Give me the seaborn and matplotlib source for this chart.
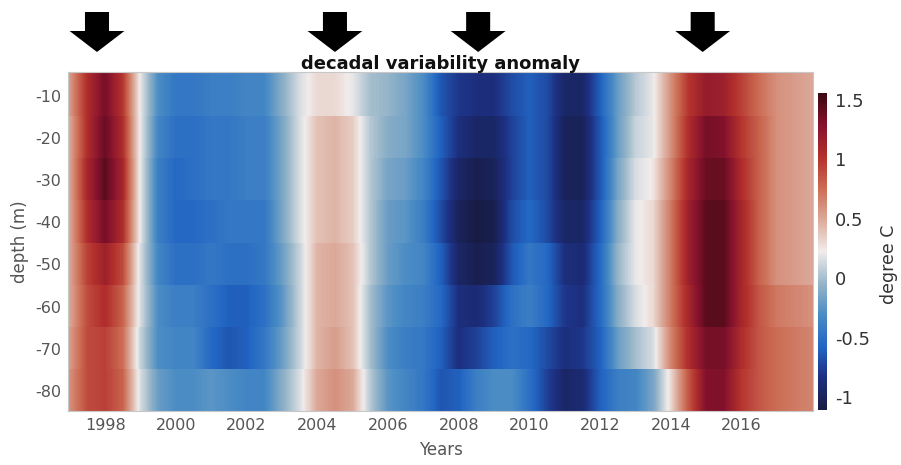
import numpy as np
import pandas as pd
import seaborn as sns
import matplotlib
matplotlib.use("Agg")
import matplotlib.pyplot as plt
from matplotlib.transforms import blended_transform_factory
from matplotlib.patches import FancyArrow

# ---------------- data ----------------
years = [1997.0, 1997.5, 1998.0, 1998.5, 1999.0, 1999.5, 2000.0, 2000.5, 2001.0, 2001.5,
         2002.0, 2002.5, 2003.0, 2003.5, 2004.0, 2004.5, 2005.0, 2005.5, 2006.0, 2006.5,
         2007.0, 2007.5, 2008.0, 2008.5, 2009.0, 2009.5, 2010.0, 2010.5, 2011.0, 2011.5,
         2012.0, 2012.5, 2013.0, 2013.5, 2014.0, 2014.5, 2015.0, 2015.5, 2016.0, 2016.5,
         2017.0, 2017.5, 2018.0]
depths = [-10, -20, -30, -40, -50, -60, -70, -80]
depth_edges = [-4.3, -15, -25, -35, -45, -55, -65, -75, -84.8]

anom_10 = [0.55, 1.05, 1.35, 1.0, 0.2, -0.3, -0.45, -0.45, -0.4, -0.4,
           -0.35, -0.35, -0.1, 0.15, 0.3, 0.3, 0.2, 0.0, -0.05, -0.15,
           -0.3, -0.65, -0.8, -0.85, -0.85, -0.7, -0.6, -0.7, -0.95, -0.95,
           -0.6, -0.2, 0.05, 0.2, 0.6, 1.0, 1.2, 1.15, 0.95, 0.75,
           0.6, 0.55, 0.5]
anom_20 = [0.5, 1.05, 1.4, 1.05, 0.2, -0.35, -0.5, -0.5, -0.45, -0.45,
           -0.4, -0.4, -0.15, 0.15, 0.4, 0.45, 0.35, 0.05, -0.1, -0.15,
           -0.3, -0.6, -0.85, -0.95, -0.95, -0.75, -0.6, -0.7, -1.0, -1.0,
           -0.65, -0.2, 0.1, 0.2, 0.6, 1.05, 1.35, 1.3, 1.0, 0.8,
           0.6, 0.55, 0.5]
anom_30 = [0.5, 1.1, 1.45, 1.1, 0.2, -0.4, -0.55, -0.5, -0.45, -0.45,
           -0.4, -0.4, -0.15, 0.15, 0.4, 0.45, 0.35, 0.05, -0.15, -0.2,
           -0.35, -0.65, -0.95, -1.05, -1.0, -0.75, -0.6, -0.7, -1.0, -1.0,
           -0.65, -0.15, 0.15, 0.25, 0.65, 1.1, 1.4, 1.4, 1.05, 0.8,
           0.6, 0.55, 0.5]
anom_40 = [0.5, 1.05, 1.35, 1.05, 0.2, -0.4, -0.55, -0.55, -0.5, -0.45,
           -0.45, -0.45, -0.15, 0.15, 0.4, 0.45, 0.35, 0.05, -0.2, -0.25,
           -0.4, -0.7, -1.0, -1.1, -1.05, -0.7, -0.55, -0.7, -0.95, -0.95,
           -0.6, -0.1, 0.2, 0.3, 0.7, 1.15, 1.45, 1.45, 1.1, 0.8,
           0.6, 0.55, 0.5]
anom_50 = [0.5, 0.95, 1.15, 0.9, 0.15, -0.35, -0.5, -0.5, -0.45, -0.5,
           -0.5, -0.45, -0.2, 0.1, 0.45, 0.5, 0.4, 0.05, -0.2, -0.3,
           -0.35, -0.6, -0.95, -1.05, -1.0, -0.65, -0.45, -0.55, -0.85, -0.9,
           -0.55, -0.05, 0.2, 0.3, 0.7, 1.15, 1.45, 1.45, 1.1, 0.8,
           0.6, 0.55, 0.5]
anom_60 = [0.5, 0.9, 1.05, 0.8, 0.15, -0.3, -0.4, -0.4, -0.5, -0.6,
           -0.6, -0.5, -0.25, 0.1, 0.45, 0.5, 0.4, 0.0, -0.25, -0.35,
           -0.4, -0.55, -0.85, -0.9, -0.75, -0.5, -0.4, -0.55, -0.8, -0.85,
           -0.55, -0.1, 0.15, 0.3, 0.7, 1.1, 1.45, 1.45, 1.1, 0.85,
           0.7, 0.65, 0.6]
anom_70 = [0.55, 0.9, 0.95, 0.75, 0.1, -0.3, -0.35, -0.35, -0.55, -0.65,
           -0.6, -0.45, -0.2, 0.1, 0.45, 0.55, 0.4, 0.0, -0.3, -0.4,
           -0.45, -0.6, -0.85, -0.75, -0.6, -0.5, -0.55, -0.7, -0.85, -0.8,
           -0.6, -0.2, 0.0, 0.15, 0.65, 1.05, 1.35, 1.35, 1.05, 0.85,
           0.75, 0.7, 0.65]
anom_80 = [0.6, 0.9, 0.95, 0.8, 0.15, -0.2, -0.3, -0.3, -0.25, -0.3,
           -0.35, -0.35, -0.1, 0.15, 0.5, 0.6, 0.5, 0.05, -0.25, -0.35,
           -0.45, -0.65, -0.6, -0.4, -0.3, -0.3, -0.5, -0.75, -0.95, -0.9,
           -0.6, -0.4, -0.35, -0.15, 0.3, 0.85, 1.3, 1.3, 1.0, 0.85,
           0.75, 0.7, 0.65]

arrow_years = [1997.77, 2004.5, 2008.55, 2014.9]
xtick_years = [1998, 2000, 2002, 2004, 2006, 2008, 2010, 2012, 2014, 2016]
cbar_ticks = [-1, -0.5, 0, 0.5, 1, 1.5]

rows = [anom_10, anom_20, anom_30, anom_40, anom_50, anom_60, anom_70, anom_80]
df = pd.DataFrame(rows, index=depths, columns=years)

# ---------------- style ----------------
sns.set_style("white")
plt.rcParams["font.family"] = ["DejaVu Sans"]

balance = sns.blend_palette(
    ["#181c43", "#1d2f80", "#2266c4", "#4a8cc4", "#98b6c9", "#f1eceb",
     "#dcaa9a", "#cc6c54", "#b3302c", "#86122d", "#3c0912"], as_cmap=True)
vmin, vmax = -1.11, 1.56

fig = plt.figure(figsize=(9.01, 4.65), dpi=100)
ax = fig.add_axes([68 / 901, 1 - 411 / 465, (813 - 68) / 901, (411 - 72) / 465])
cax = fig.add_axes([818 / 901, 1 - 410 / 465, 9 / 901, (410 - 93) / 465])

dt = years[1] - years[0]
im = None
for i, d in enumerate(df.index):
    vals = df.loc[d].to_numpy()[None, :]
    im = ax.imshow(vals, extent=[years[0] - dt / 2, years[-1] + dt / 2,
                                 depth_edges[i + 1], depth_edges[i]],
                   aspect="auto", interpolation="bilinear",
                   interpolation_stage="data",
                   cmap=balance, vmin=vmin, vmax=vmax, origin="lower")

ax.set_xlim(1996.95, 2018.02)
ax.set_ylim(depth_edges[-1], depth_edges[0])
ax.set_xticks(xtick_years)
ax.set_xticklabels([str(y) for y in xtick_years])
ax.set_yticks(depths)
ax.set_yticklabels([str(d) for d in depths])
ax.tick_params(length=0, labelsize=11.5, labelcolor="#555555", pad=5)
for s in ax.spines.values():
    s.set_color("#c8c8c8")
    s.set_linewidth(0.8)
ax.set_xlabel("Years", fontsize=12, color="#555555", labelpad=6)
ax.set_ylabel("depth (m)", fontsize=12, color="#555555", labelpad=4)
ax.set_title("decadal variability anomaly", fontsize=13, fontweight="bold",
             color="#111111", pad=2)

cb = fig.colorbar(im, cax=cax, ticks=cbar_ticks)
cb.ax.set_yticklabels(["%g" % t for t in cbar_ticks])
cb.ax.tick_params(length=0, labelsize=13, labelcolor="#333333", pad=6)
cb.outline.set_visible(False)
cb.set_label("degree C", fontsize=12.5, color="#333333")
cb.ax.yaxis.set_label_coords(6.9, 0.46)

trans = blended_transform_factory(ax.transData, ax.transAxes)
for yr in arrow_years:
    arr = FancyArrow(yr, 1 + 60 / 339, 0, -(60 - 20) / 339, width=0.68,
                     head_width=1.55, head_length=21 / 339,
                     length_includes_head=True, transform=trans,
                     color="black", clip_on=False, linewidth=0)
    ax.add_patch(arr)

fig.savefig("out.png", dpi=100)
